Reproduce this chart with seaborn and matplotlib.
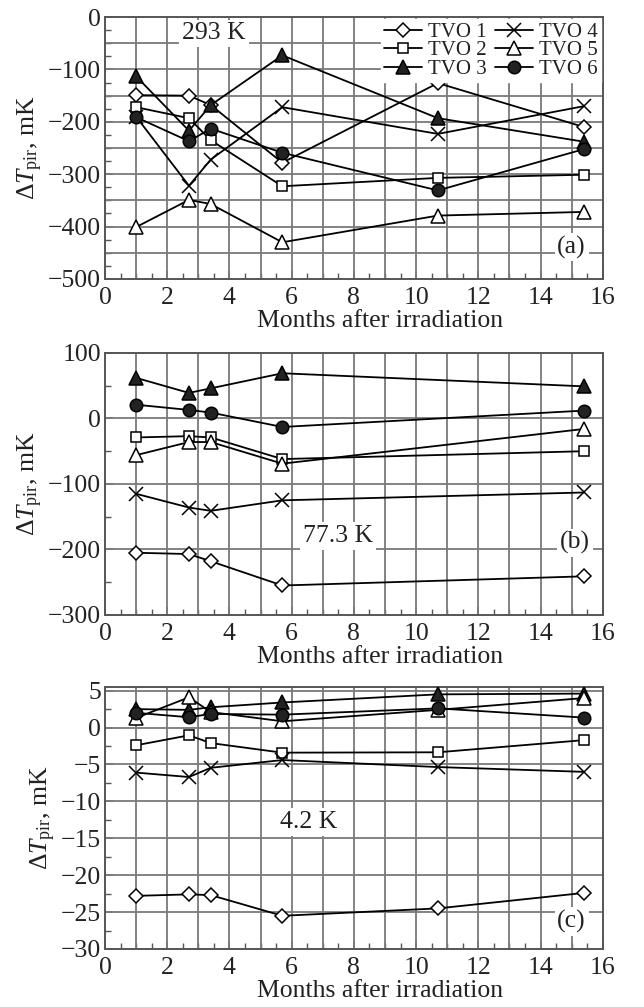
import numpy as np
import pandas as pd
import matplotlib
matplotlib.use("Agg")
import matplotlib.pyplot as plt
import seaborn as sns
from matplotlib.ticker import MultipleLocator

# ---------------- data ----------------
series_names = ["TVO 1", "TVO 2", "TVO 3", "TVO 4", "TVO 5", "TVO 6"]

months_a = [1.0, 2.7, 3.4, 5.7, 10.7, 15.4]
months_b = [1.0, 2.7, 3.4, 5.7, 15.4]
months_c = [1.0, 2.7, 3.4, 5.7, 10.7, 15.4]

# panel (a) 293 K, mK
a_tvo1 = [-149, -150, -168, -278, -126, -210]
a_tvo2 = [-172, -193, -235, -323, -307, -301]
a_tvo3 = [-113, -217, -168, -73, -193, -238]
a_tvo4 = [-190, -322, -272, -172, -223, -170]
a_tvo5 = [-401, -349, -357, -430, -379, -372]
a_tvo6 = [-191, -237, -213, -259, -331, -252]

# panel (b) 77.3 K, mK
b_tvo1 = [-205, -207, -218, -255, -241]
b_tvo2 = [-29, -27, -29, -62, -50]
b_tvo3 = [62, 39, 46, 69, 49]
b_tvo4 = [-115, -136, -141, -125, -113]
b_tvo5 = [-56, -36, -36, -69, -16]
b_tvo6 = [21, 13, 9, -13, 12]

# panel (c) 4.2 K, mK
c_tvo1 = [-22.8, -22.6, -22.7, -25.5, -24.5, -22.4]
c_tvo2 = [-2.4, -1.05, -2.1, -3.4, -3.35, -1.7]
c_tvo3 = [2.5, 2.4, 2.75, 3.4, 4.5, 4.6]
c_tvo4 = [-6.1, -6.7, -5.45, -4.4, -5.35, -6.0]
c_tvo5 = [1.3, 4.1, 2.1, 0.85, 2.4, 4.0]
c_tvo6 = [2.0, 1.4, 1.85, 1.75, 2.6, 1.35]

panels = [
    dict(x=months_a, ys=[a_tvo1, a_tvo2, a_tvo3, a_tvo4, a_tvo5, a_tvo6],
         ylim=(-500, 0), major=100, grid=50, minor=25,
         temp="293 K", temp_xy=(3.5, -31), tag="(a)", tag_xy=(15.0, -439)),
    dict(x=months_b, ys=[b_tvo1, b_tvo2, b_tvo3, b_tvo4, b_tvo5, b_tvo6],
         ylim=(-300, 100), major=100, grid=100, minor=50,
         temp="77.3 K", temp_xy=(7.5, -179), tag="(b)", tag_xy=(15.1, -190)),
    dict(x=months_c, ys=[c_tvo1, c_tvo2, c_tvo3, c_tvo4, c_tvo5, c_tvo6],
         ylim=(-30, 5.5), major=5, grid=5, minor=2.5,
         temp="4.2 K", temp_xy=(6.55, -12.8), tag="(c)", tag_xy=(15.0, -26.3)),
]

# ---------------- style ----------------
sns.set_theme(style="white")
plt.rcParams["font.family"] = ["Liberation Serif", "DejaVu Serif"]
plt.rcParams["mathtext.fontset"] = "custom"
plt.rcParams["mathtext.rm"] = "Liberation Serif"
plt.rcParams["mathtext.it"] = "Liberation Serif:italic"
plt.rcParams["axes.unicode_minus"] = True

FS = 18.5
marker_styles = [
    dict(marker="D", mfc="white", ms=7.5),
    dict(marker="s", mfc="white", ms=7.5),
    dict(marker="^", mfc="#222222", ms=9.5),
    dict(marker="x", mfc="none", ms=9.5),
    dict(marker="^", mfc="white", ms=9.5),
    dict(marker="o", mfc="#222222", ms=9),
]

grid_color = "#7a7a7a"
text_color = "#222222"

fig = plt.figure(figsize=(6.44, 10.07), dpi=100)
rects = [
    (0.163, 0.723, 0.773, 0.260),
    (0.163, 0.3893, 0.773, 0.2602),
    (0.163, 0.0576, 0.773, 0.2602),
]

for i, (p, rect) in enumerate(zip(panels, rects)):
    ax = fig.add_axes(rect)
    for name, ys, ms in zip(series_names, p["ys"], marker_styles):
        df = pd.DataFrame({"month": p["x"], "dT": ys})
        sns.lineplot(data=df, x="month", y="dT", ax=ax, color="black",
                     lw=1.3, marker=ms["marker"], markersize=ms["ms"],
                     markerfacecolor=ms["mfc"], markeredgecolor="black",
                     markeredgewidth=1.1, label=name, zorder=3,
                     legend=False)
    ax.set_xlim(0, 16)
    ax.set_ylim(*p["ylim"])
    ax.xaxis.set_major_locator(MultipleLocator(2))
    ax.xaxis.set_minor_locator(MultipleLocator(0.5))
    ax.yaxis.set_major_locator(MultipleLocator(p["major"]))
    ax.yaxis.set_minor_locator(MultipleLocator(p["minor"]))
    # grid lines
    for gx in np.arange(1, 16, 1):
        ax.axvline(gx, color=grid_color, lw=1.3, zorder=1)
    lo, hi = p["ylim"]
    gy = np.arange(np.ceil(lo / p["grid"]) * p["grid"], hi + 1e-9, p["grid"])
    for g in gy:
        if lo < g < hi:
            ax.axhline(g, color=grid_color, lw=1.3, zorder=1)
    for s in ax.spines.values():
        s.set_color("#555555")
        s.set_linewidth(1.4)
    ax.tick_params(axis="both", which="both", direction="in", color="#555555",
                   left=True, bottom=True, right=False, top=False)
    ax.tick_params(axis="both", which="major", length=6, width=1.1,
                   labelsize=FS, labelcolor=text_color)
    ax.tick_params(axis="x", which="major", pad=6)
    ax.tick_params(axis="y", which="major", pad=3)
    ax.tick_params(axis="both", which="minor", length=4, width=1.0)
    ax.set_xlabel("Months after irradiation", fontsize=FS, color=text_color,
                  labelpad=0)
    ax.xaxis.set_label_coords(0.552, -0.118)
    ax.set_ylabel(r"$\Delta T_{\rm pir}$, mK", fontsize=FS, color=text_color,
                  labelpad=2)
    bbox = dict(facecolor="white", edgecolor="none", pad=2)
    ax.text(*p["temp_xy"], p["temp"], fontsize=FS, ha="center", va="center",
            color=text_color, bbox=bbox, zorder=4)
    ax.text(*p["tag_xy"], p["tag"], fontsize=FS, ha="center", va="center",
            color=text_color, bbox=bbox, zorder=4)
    if i == 0:
        leg = ax.legend(loc="upper right", ncol=2, fontsize=15,
                        frameon=True, fancybox=False, framealpha=1,
                        edgecolor="white", facecolor="white",
                        handlelength=1.8, handletextpad=0.3,
                        columnspacing=0.4, labelspacing=-0.05,
                        borderpad=0.15, borderaxespad=0.1)
        leg.set_zorder(5)
        for t in leg.get_texts():
            t.set_color(text_color)

fig.savefig("out.png", dpi=100, facecolor="white")
